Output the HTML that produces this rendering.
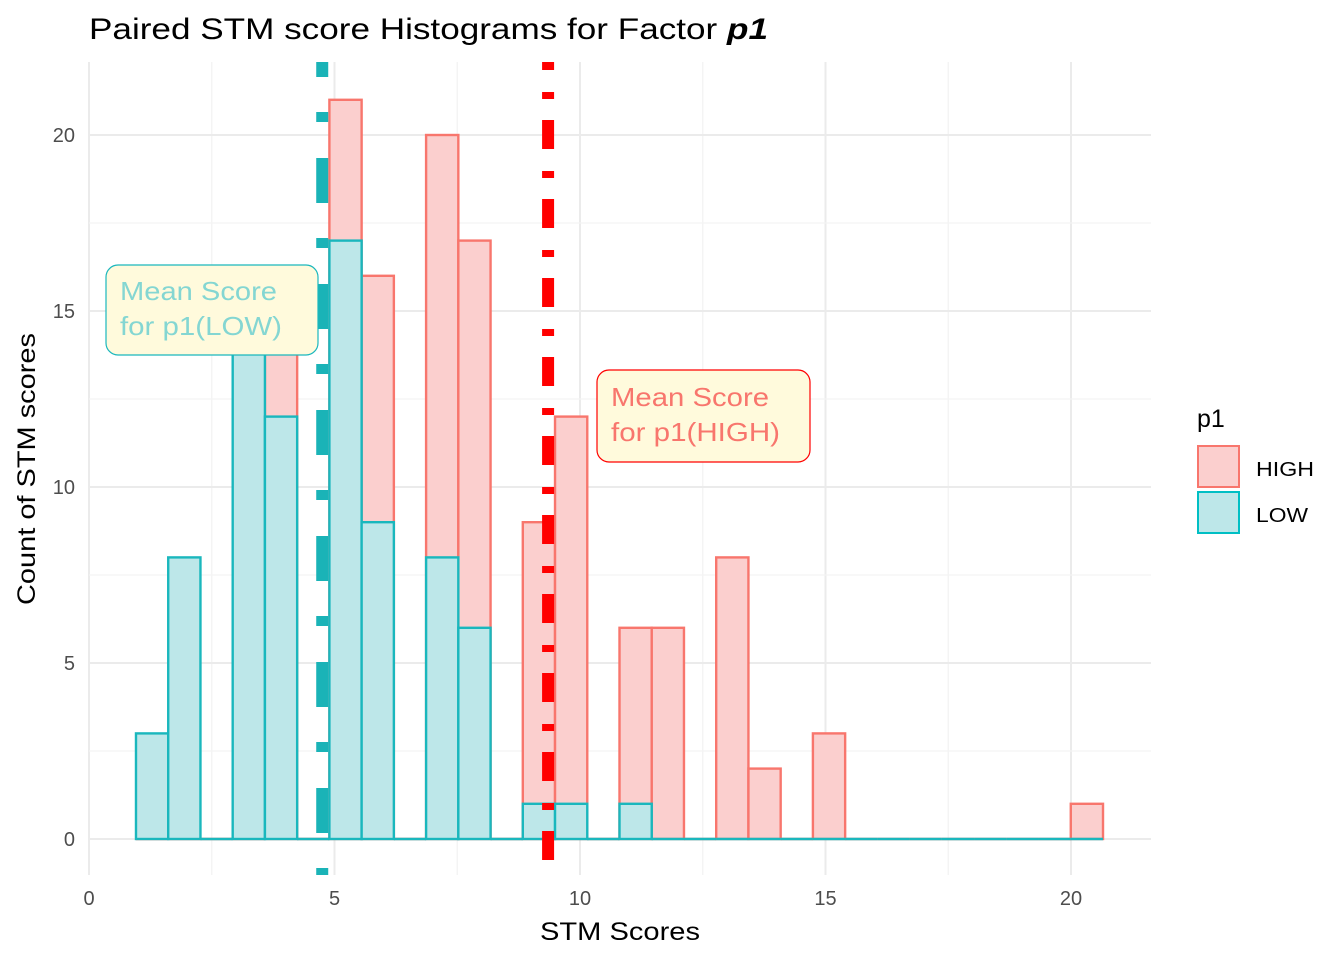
<!DOCTYPE html>
<html><head><meta charset="utf-8"><style>
body{margin:0;background:#fff;}
svg text{font-family:"Liberation Sans",Arial,sans-serif;}
</style></head><body>
<svg id="chart" width="1344" height="960" xmlns="http://www.w3.org/2000/svg">
<g id="grid"></g>
<g id="bars"></g>
<g id="means"></g>
<g id="axes"></g>
<text x="89" y="39" font-size="30" fill="#000" textLength="679" lengthAdjust="spacingAndGlyphs">Paired STM score Histograms for Factor <tspan font-weight="bold" font-style="italic">p1</tspan></text>
<text x="540" y="940" font-size="25" fill="#000" textLength="160" lengthAdjust="spacingAndGlyphs">STM Scores</text>
<text transform="translate(35,605) rotate(-90)" font-size="25" fill="#000" textLength="272" lengthAdjust="spacingAndGlyphs">Count of STM scores</text>
<g>
<rect x="106" y="265" width="212" height="90" rx="12" fill="#fffadc" stroke="#1ab7bd" stroke-width="1.2"/>
<text x="120" y="300" font-size="26" fill="#84d6d2" textLength="157" lengthAdjust="spacingAndGlyphs">Mean Score</text>
<text x="120" y="335" font-size="26" fill="#84d6d2" textLength="162" lengthAdjust="spacingAndGlyphs">for p1(LOW)</text>
</g>
<g>
<rect x="597" y="370" width="213" height="92" rx="12" fill="#fffadc" stroke="#ff0000" stroke-width="1.2"/>
<text x="611" y="406" font-size="26" fill="#f8766d" textLength="158" lengthAdjust="spacingAndGlyphs">Mean Score</text>
<text x="611" y="441" font-size="26" fill="#f8766d" textLength="169" lengthAdjust="spacingAndGlyphs">for p1(HIGH)</text>
</g>
<g>
<text x="1197" y="427" font-size="25" fill="#000">p1</text>
<g>
<rect x="1198" y="446" width="41" height="41" fill="#fbcfce" stroke="#f8766d" stroke-width="2"/>
<text x="1256" y="476" font-size="20" fill="#000" textLength="58" lengthAdjust="spacingAndGlyphs">HIGH</text></g>
<g>
<rect x="1198" y="492" width="41" height="41" fill="#bde7e9" stroke="#00bfc4" stroke-width="2"/>
<text x="1256" y="522" font-size="20" fill="#000" textLength="52" lengthAdjust="spacingAndGlyphs">LOW</text></g>
</g>
</svg>
<script>
const binStart = 0.957;
const binWidth = 0.6565;
const highCounts = [0,0,0,0,14,0,21,16,0,20,17,0,9,12,0,6,6,0,8,2,0,3,0,0,0,0,0,0,0,1];
const lowCounts  = [3,8,0,14,12,0,17,9,0,8,6,0,1,1,0,1,0,0,0,0,0,0,0,0,0,0,0,0,0,0];
const meanLow = 4.75;
const meanHigh = 9.35;
const xTicks = [0,5,10,15,20];
const yTicks = [0,5,10,15,20];

const NS="http://www.w3.org/2000/svg";
const X=v=>89+v*49.1;
const Y=v=>839-v*35.2;
const L=89,R=1151,T=62,B=875;
function mk(tag,attrs,parent){const e=document.createElementNS(NS,tag);for(const k in attrs)e.setAttribute(k,attrs[k]);parent.appendChild(e);return e;}
const grid=document.getElementById('grid');
for(let i=0;i<xTicks.length;i++){
  const v=xTicks[i];
  const gl=mk('line',{x1:X(v),x2:X(v),y1:T,y2:B,stroke:'#ebebeb','stroke-width':2},grid);
  
  
  if(X(v+2.5)<R){
    const ml=mk('line',{x1:X(v+2.5),x2:X(v+2.5),y1:T,y2:B,stroke:'#f3f3f3','stroke-width':1.2},grid);
    
    
  }
  const t=mk('text',{x:X(v),y:905,'font-size':20,'text-anchor':'middle',fill:'#4d4d4d'},document.getElementById('axes'));
  t.textContent=v;
  
  
}
for(let i=0;i<yTicks.length;i++){
  const v=yTicks[i];
  const gl=mk('line',{x1:L,x2:R,y1:Y(v),y2:Y(v),stroke:'#ebebeb','stroke-width':2},grid);
  
  
  if(Y(v+2.5)>T){
    const ml=mk('line',{x1:L,x2:R,y1:Y(v+2.5),y2:Y(v+2.5),stroke:'#f3f3f3','stroke-width':1.2},grid);
    
    
  }
  const t=mk('text',{x:75,y:Y(v)+7,'font-size':20,'text-anchor':'end',fill:'#4d4d4d'},document.getElementById('axes'));
  t.textContent=v;
  
  
}
const bars=document.getElementById('bars');
function drawSeries(counts,fill,stroke,name){
  for(let i=0;i<counts.length;i++){
    const x0=X(binStart+i*binWidth),x1=X(binStart+(i+1)*binWidth);
    if(counts[i]>0){
      const r=mk('rect',{x:x0,y:Y(counts[i]),width:x1-x0,height:Y(0)-Y(counts[i]),fill:fill,stroke:stroke,'stroke-width':2.4},bars);
      
      
    } else {
      const l=mk('line',{x1:x0,x2:x1,y1:Y(0),y2:Y(0),stroke:stroke,'stroke-width':2.4},bars);
      
      
    }
  }
}
drawSeries(highCounts,'#fbcfce','#f8766d','high');
drawSeries(lowCounts,'#bde7e9','#1ab7bd','low');
const means=document.getElementById('means');
const ml1=mk('line',{x1:X(meanLow),x2:X(meanLow),y1:T,y2:B,stroke:'#1ab3b7','stroke-width':12,'stroke-dasharray':'45 35 10 36','stroke-dashoffset':'30'},means);


const ml2=mk('line',{x1:X(meanHigh),x2:X(meanHigh),y1:T,y2:B,stroke:'#ff0000','stroke-width':12,'stroke-dasharray':'29 22 7 21','stroke-dashoffset':'21'},means);


</script>
</body></html>
